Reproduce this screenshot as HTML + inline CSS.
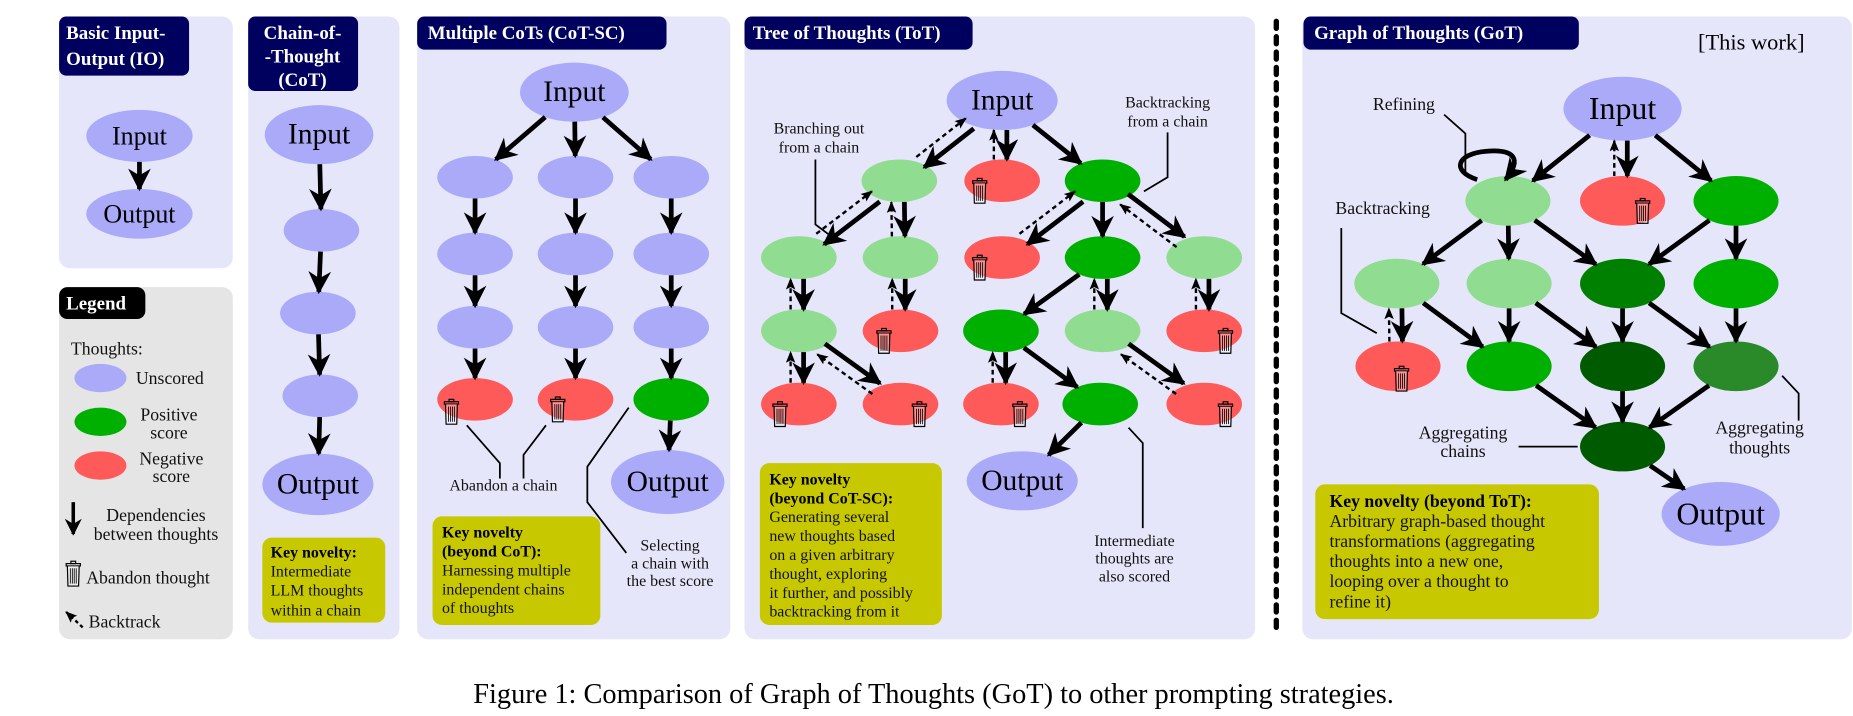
<!DOCTYPE html>
<html><head><meta charset="utf-8"><style>
html,body{margin:0;padding:0;background:#fff;}
svg{display:block;}
text{font-family:"Liberation Serif",serif;}
.t{fill:#fff;font-weight:bold;font-size:16px;}
.k{font-size:13.5px;fill:#111;}
.kb{font-size:13.5px;font-weight:bold;fill:#000;}
.l{font-size:13.5px;fill:#111;}
.big{font-size:25px;fill:#000;}
</style></head><body>
<svg id="s" width="1853" height="716" viewBox="0 0 1568 606" preserveAspectRatio="none" xmlns="http://www.w3.org/2000/svg">
<defs>
<marker id="a" viewBox="0 0 10 10" refX="9" refY="5" markerWidth="4.8" markerHeight="4.8" orient="auto"><path d="M0,0 L10,5 L0,10 L3,5 z" fill="#000"/></marker>
<marker id="d" viewBox="0 0 10 10" refX="9" refY="5" markerWidth="5" markerHeight="5" orient="auto"><path d="M0,1 L10,5 L0,9 L2,5 z" fill="#000"/></marker>
<g id="trash"><rect x="-6" y="-10" width="12" height="2" fill="none" stroke="#000" stroke-width="1"/><rect x="-2" y="-12" width="4" height="2" fill="none" stroke="#000" stroke-width="1"/><path d="M-5,-8 L-4.5,9 L4.5,9 L5,-8" fill="#fff" fill-opacity="0.35" stroke="#000" stroke-width="1"/><path d="M-2.5,-6 V7 M-0.8,-6 V7 M0.8,-6 V7 M2.5,-6 V7" stroke="#000" stroke-width="0.7"/></g>
</defs>
<rect x="50" y="14" width="147" height="213" rx="9" fill="#e6e6fb"/>
<rect x="50" y="243" width="147" height="298" rx="9" fill="#e5e5e5"/>
<rect x="210" y="14" width="128" height="527" rx="9" fill="#e6e6fb"/>
<rect x="353" y="14" width="265" height="527" rx="9" fill="#e6e6fb"/>
<rect x="630" y="14" width="432" height="527" rx="9" fill="#e6e6fb"/>
<rect x="1102" y="14" width="465" height="527" rx="9" fill="#e6e6fb"/>
<line x1="1080" y1="18" x2="1080" y2="538" stroke="#000" stroke-width="4.5" stroke-dasharray="6 7" stroke-linecap="round"/>
<rect x="50" y="14" width="110" height="50" rx="6" fill="#00005e"/>
<text class="t" x="56" y="33">Basic Input-</text><text class="t" x="56" y="55">Output (IO)</text>
<rect x="210" y="14" width="93" height="63" rx="6" fill="#00005e"/>
<text class="t" x="256" y="33" text-anchor="middle">Chain-of-</text><text class="t" x="256" y="53" text-anchor="middle">-Thought</text><text class="t" x="256" y="73" text-anchor="middle">(CoT)</text>
<rect x="353" y="14" width="211" height="28" rx="6" fill="#00005e"/>
<text class="t" x="362" y="33">Multiple CoTs (CoT-SC)</text>
<rect x="630" y="14" width="193" height="28" rx="6" fill="#00005e"/>
<text class="t" x="637" y="33">Tree of Thoughts (ToT)</text>
<rect x="1103" y="14" width="233" height="28" rx="6" fill="#00005e"/>
<text class="t" x="1112" y="33">Graph of Thoughts (GoT)</text>
<rect x="50" y="243" width="73" height="27" rx="7" fill="#000"/>
<text class="t" x="56" y="262">Legend</text>
<text x="1527" y="42" text-anchor="end" style="font-size:19px">[This work]</text>
<g id="g"></g>
<text class="big" x="118" y="115" dominant-baseline="central" text-anchor="middle" style="font-size:22px">Input</text>
<text class="big" x="118" y="181" dominant-baseline="central" text-anchor="middle" style="font-size:22px">Output</text>
<text class="big" x="270" y="114" dominant-baseline="central" text-anchor="middle">Input</text>
<text class="big" x="269" y="410" dominant-baseline="central" text-anchor="middle">Output</text>
<text class="big" x="486" y="78" dominant-baseline="central" text-anchor="middle">Input</text>
<text class="big" x="565" y="408" dominant-baseline="central" text-anchor="middle">Output</text>
<text class="big" x="848" y="85" dominant-baseline="central" text-anchor="middle">Input</text>
<text class="big" x="865" y="407" dominant-baseline="central" text-anchor="middle">Output</text>
<text class="big" x="1373" y="92" dominant-baseline="central" text-anchor="middle" style="font-size:27px">Input</text>
<text class="big" x="1456" y="435" dominant-baseline="central" text-anchor="middle" style="font-size:27px">Output</text>
<text class="l" x="60" y="300" style="font-size:15px">Thoughts:</text>
<text class="l" x="115" y="325" style="font-size:15px">Unscored</text>
<text class="l" x="143" y="356" text-anchor="middle" style="font-size:15px">Positive</text><text class="l" x="143" y="371" text-anchor="middle" style="font-size:15px">score</text>
<text class="l" x="145" y="393" text-anchor="middle" style="font-size:15px">Negative</text><text class="l" x="145" y="408" text-anchor="middle" style="font-size:15px">score</text>
<text class="l" x="132" y="441" text-anchor="middle" style="font-size:15px">Dependencies</text><text class="l" x="132" y="457" text-anchor="middle" style="font-size:15px">between thoughts</text>
<text class="l" x="73" y="494" style="font-size:15px">Abandon thought</text>
<text class="l" x="75" y="531" style="font-size:15px">Backtrack</text>
<text class="l" x="426" y="415" text-anchor="middle">Abandon a chain</text>
<text class="l" x="567" y="466" text-anchor="middle">Selecting</text><text class="l" x="567" y="481" text-anchor="middle">a chain with</text><text class="l" x="567" y="496" text-anchor="middle">the best score</text>
<text class="l" x="693" y="113" text-anchor="middle">Branching out</text><text class="l" x="693" y="129" text-anchor="middle">from a chain</text>
<text class="l" x="988" y="91" text-anchor="middle">Backtracking</text><text class="l" x="988" y="107" text-anchor="middle">from a chain</text>
<text class="l" x="960" y="462" text-anchor="middle">Intermediate</text><text class="l" x="960" y="477" text-anchor="middle">thoughts are</text><text class="l" x="960" y="492" text-anchor="middle">also scored</text>
<text class="l" x="1188" y="93" text-anchor="middle" style="font-size:15px">Refining</text>
<text class="l" x="1170" y="181" text-anchor="middle" style="font-size:15px">Backtracking</text>
<text class="l" x="1238" y="371" text-anchor="middle" style="font-size:15px">Aggregating</text><text class="l" x="1238" y="387" text-anchor="middle" style="font-size:15px">chains</text>
<text class="l" x="1489" y="367" text-anchor="middle" style="font-size:15px">Aggregating</text><text class="l" x="1489" y="384" text-anchor="middle" style="font-size:15px">thoughts</text>
<rect x="222" y="455" width="104" height="72" rx="8" fill="#c8c800"/>
<text class="kb" x="229" y="472">Key novelty:</text><text class="k" x="229" y="488">Intermediate</text><text class="k" x="229" y="504">LLM thoughts</text><text class="k" x="229" y="521">within a chain</text>
<rect x="366" y="437" width="142" height="92" rx="8" fill="#c8c800"/>
<text class="kb" x="374" y="455">Key novelty</text><text class="kb" x="374" y="471">(beyond CoT):</text><text class="k" x="374" y="487">Harnessing multiple</text><text class="k" x="374" y="503">independent chains</text><text class="k" x="374" y="519">of thoughts</text>
<rect x="643" y="392" width="154" height="137" rx="8" fill="#c8c800"/>
<text class="kb" x="651" y="410">Key novelty</text><text class="kb" x="651" y="426">(beyond CoT-SC):</text><text class="k" x="651" y="442">Generating several</text><text class="k" x="651" y="458">new thoughts based</text><text class="k" x="651" y="474">on a given arbitrary</text><text class="k" x="651" y="490">thought, exploring</text><text class="k" x="651" y="506">it further, and possibly</text><text class="k" x="651" y="522">backtracking from it</text>
<rect x="1113" y="410" width="240" height="114" rx="8" fill="#c8c800"/>
<text class="kb" x="1125" y="429" style="font-size:15px">Key novelty (beyond ToT):</text><text class="k" x="1125" y="446" style="font-size:15px">Arbitrary graph-based thought</text><text class="k" x="1125" y="463" style="font-size:15px">transformations (aggregating</text><text class="k" x="1125" y="480" style="font-size:15px">thoughts into a new one,</text><text class="k" x="1125" y="497" style="font-size:15px">looping over a thought to</text><text class="k" x="1125" y="514" style="font-size:15px">refine it)</text>
<text x="790" y="595" text-anchor="middle" style="font-size:24px">Figure 1: Comparison of Graph of Thoughts (GoT) to other prompting strategies.</text>
<text x="1745" y="596" text-anchor="middle" style="font-family:'Liberation Sans',sans-serif;font-size:11px;fill:#888">CSDN @Vincy_King</text>
</svg>
<script>
var G=document.getElementById('g'),NS='http://www.w3.org/2000/svg';
function el(t,a){var e=document.createElementNS(NS,t);for(var k in a)e.setAttribute(k,a[k]);G.appendChild(e);return e;}
var U='#aaaaf8',LG='#90dc90',GR='#00b000',DG='#008000',DD='#005a00',MG='#2a8a2a',R='#ff5a5a';
var N={};
function n(id,x,y,c,rx,ry){N[id]={x:x,y:y,rx:rx||32,ry:ry||18,c:c};}
function bp(a,dx,dy){return 1/Math.sqrt(Math.pow(dx/a.rx,2)+Math.pow(dy/a.ry,2));}
var edges=[],dashes=[];
function E(a,b){edges.push([a,b]);} function D(a,b){dashes.push([a,b]);}
n('io1',118,115,U,45,22);n('io2',118,181,U,45,21);E('io1','io2');
n('c0',270,114,U,46,25);n('c1',272,195,U);n('c2',269,265,U);n('c3',271,335,U);n('c4',269,410,U,47,26);
E('c0','c1');E('c1','c2');E('c2','c3');E('c3','c4');
n('s0',486,78,U,46,25);var cx=[402,487,568],ry=[150,215,277,338];
for(var i=0;i<3;i++){for(var j=0;j<4;j++){var c=U;if(j==3)c=(i==2?GR:R);n('s'+i+j,cx[i],ry[j],c);}E('s0','s'+i+'0');for(j=0;j<3;j++)E('s'+i+j,'s'+i+(j+1));}
n('s5',565,408,U,48,27);E('s23','s5');
n('t0',848,85,U,47,25);
n('a1',761,153,LG);n('a2',848,153,R);n('a3',933,153,GR);
n('b1',676,218,LG);n('b2',762,218,LG);n('b3',848,218,R);n('b4',933,218,GR);n('b5',1019,218,LG);
n('c1t',676,280,LG);n('c2t',762,280,R);n('c3t',847,280,GR);n('c4t',933,280,LG);n('c5t',1019,280,R);
n('d1',676,342,R);n('d2',762,342,R);n('d3',847,342,R);n('d4',931,342,GR);n('d5',1019,342,R);
n('t9',865,407,U,47,25);
[['t0','a1'],['t0','a2'],['t0','a3'],['a1','b1'],['a1','b2'],['a3','b3'],['a3','b4'],['a3','b5'],['b1','c1t'],['b2','c2t'],['b4','c3t'],['b4','c4t'],['b5','c5t'],['c1t','d1'],['c1t','d2'],['c3t','d3'],['c3t','d4'],['c4t','d5'],['d4','t9']].forEach(function(e){E(e[0],e[1]);});
[['a2','t0'],['a1','t0'],['b1','a1'],['b2','a1'],['b3','a3'],['b5','a3'],['c1t','b1'],['c2t','b2'],['c4t','b4'],['c5t','b5'],['d1','c1t'],['d2','c1t'],['d3','c3t'],['d5','c4t']].forEach(function(e){D(e[0],e[1]);});
n('g0',1373,92,U,50,27);
n('g1',1276,170,LG,36,21);n('g2',1373,170,R,36,21);n('g3',1469,170,GR,36,21);
n('h1',1182,240,LG,36,21);n('h2',1277,240,LG,36,21);n('h3',1373,240,DG,36,21);n('h4',1469,240,GR,36,21);
n('i1',1183,310,R,36,21);n('i2',1277,310,GR,36,21);n('i3',1373,310,DD,36,21);n('i4',1469,310,MG,36,21);
n('j',1373,378,DD,36,21);n('g9',1456,435,U,50,27);
[['g0','g1'],['g0','g2'],['g0','g3'],['g1','h1'],['g1','h2'],['g1','h3'],['g3','h3'],['g3','h4'],['h1','i1'],['h1','i2'],['h2','i2'],['h2','i3'],['h3','i3'],['h3','i4'],['h4','i4'],['i2','j'],['i3','j'],['i4','j'],['j','g9']].forEach(function(e){E(e[0],e[1]);});
D('g2','g0');D('i1','h1');
for(var k in N){var a=N[k];el('ellipse',{cx:a.x,cy:a.y,rx:a.rx,ry:a.ry,fill:a.c});}
function line(a,b,dash,off){var A=N[a],B=N[b];var dx=B.x-A.x,dy=B.y-A.y;var L=Math.sqrt(dx*dx+dy*dy);var px=-dy/L*off,py=dx/L*off;
var sa=bp(A,dx,dy),sb=bp(B,dx,dy);var x1=A.x+dx*sa+px,y1=A.y+dy*sa+py,x2=B.x-dx*sb+px,y2=B.y-dy*sb+py;
if(dash)el('line',{x1:x1,y1:y1,x2:x2,y2:y2,stroke:'#000','stroke-width':2,'stroke-dasharray':'4 3','marker-end':'url(#d)'});
else el('line',{x1:x1,y1:y1,x2:x2,y2:y2,stroke:'#000','stroke-width':4,'marker-end':'url(#a)'});}
var dk={};dashes.forEach(function(d){dk[d[1]+'>'+d[0]]=1;});
edges.forEach(function(e){line(e[0],e[1],false,dk[e[0]+'>'+e[1]]?-4:0);});
dashes.forEach(function(e){line(e[0],e[1],true,-7);});
[[382,350],[472,348],[829,163],[829,228],[748,290],[1037,290],[660,352],[778,352],[863,352],[1037,352],[1390,180],[1186,322],[62,487]].forEach(function(p){el('use',{href:'#trash',x:p[0],y:p[1]});});
el('ellipse',{cx:85,cy:320,rx:22,ry:12,fill:U});el('ellipse',{cx:85,cy:357,rx:22,ry:12,fill:GR});el('ellipse',{cx:85,cy:394,rx:22,ry:12,fill:R});
el('line',{x1:62,y1:425,x2:62,y2:452,stroke:'#000','stroke-width':3,'marker-end':'url(#a)'});
el('line',{x1:70,y1:531,x2:56,y2:518,stroke:'#000','stroke-width':2,'stroke-dasharray':'3 2.5','marker-end':'url(#d)'});
function pl(p){el('polyline',{points:p,fill:'none',stroke:'#000','stroke-width':1.5});}
pl('395,360 423,392 423,405');pl('462,360 443,385 443,405');pl('532,345 497,395 497,425 530,468');
pl('690,135 690,190 710,205');pl('988,112 988,150 968,162');pl('955,362 967,375 967,447');
pl('1222,97 1240,113 1240,145');pl('1135,193 1135,265 1165,282');pl('1285,378 1335,378');pl('1508,318 1522,333 1522,356');
el('path',{d:'M1250,152 C1228,145 1232,130 1258,128 C1282,126 1288,135 1274,152',fill:'none',stroke:'#000','stroke-width':4,'marker-end':'url(#a)'});
</script>
</body></html>
